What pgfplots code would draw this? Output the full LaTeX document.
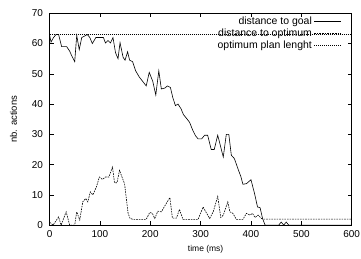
\documentclass[border=0pt]{standalone}
\usepackage{fontspec}
\setmainfont{Liberation Sans}
\usepackage{pgfplots}
\pgfplotsset{compat=1.18}
\begin{document}
\begin{tikzpicture}
\begin{axis}[
  scale only axis,
  width=302bp, height=211.7bp,
  xmin=0, xmax=600, ymin=0, ymax=70,
  xtick={0,100,...,600}, ytick={0,10,...,70},
  tick align=inside,
  major tick length=4bp,
  axis line style={line width=0.6bp},
  every tick/.style={line width=0.5bp, black},
  /pgf/number format/assume math mode=true,
  tick label style={font=\fontsize{10}{11}\selectfont},
  xticklabel style={yshift=-1.5bp},
  yticklabel style={xshift=-3bp},
  xlabel={time (ms)},
  ylabel={nb. actions},
  xlabel style={font=\fontsize{8.5}{9}\selectfont, yshift=-1bp, xshift=5bp},
  ylabel style={font=\fontsize{9.5}{10}\selectfont, yshift=8bp},
  legend plot pos=right,
  legend cell align=right,
  legend style={at={(1,1)}, anchor=north east, draw=none, fill=none,
    font=\fontsize{10.5}{11}\selectfont, xshift=-9bp, yshift=0bp,
    row sep=-1bp, inner sep=1bp},
  legend image code/.code={\draw[#1] (0bp,0bp) -- (27bp,0bp);},
]
\addplot[black, line width=0.6bp] coordinates {
(0,63) (3,60.5) (8,62) (13,63) (18,63) (24,59) (34,59) (40,57.5) (44,56) (50,54)
(54,62.7) (59,58) (64,62) (70,62.5) (75,63) (80,62) (85,60) (92,62) (100,62)
(107,62) (111,60.2) (116,61) (121,60.2) (126,62) (131,57) (136,55) (140,60.3)
(146,55.5) (150,54.5) (155,57.3) (159,54.5) (165,54) (171,51) (178,49) (185,47.5)
(192,46) (198,50.5) (205,47.5) (211,43) (217,51) (222,45) (229,45.3) (234,46)
(240,45.5) (245,42) (250,39.5) (255,40) (261,38.5) (266,36.5) (271,35.5) (278,34)
(284,31.5) (290,29.5) (295,28.5) (302,28.5) (308,29.7) (314,29.7) (321,25) (327,25)
(334,29.7) (345,22.5) (351,30) (356,30) (361,23.1) (367,22) (374,18.7) (380,16)
(384,13.5) (391,13.7) (400,15) (407,10.5) (413,6) (418,5.8) (423,2.2) (428,0)
(455,0) (460,1) (465,0) (470,1) (475,0) (600,0)
};
\addlegendentry{distance to goal}
\addplot[black, line width=0.6bp, dash pattern=on 1.6bp off 1bp] coordinates {
(0,1) (7,0) (18,2.7) (23,0) (33,4.4) (40,0) (50,0) (54,4.4) (60,1.7) (66,7.7)
(72,8.8) (76,7.7) (81,11) (86,10) (93,12.6) (99,15.9) (105,15.1) (111,15.9)
(118,15.9) (125,19.2) (129,14) (134,14) (139,18.1) (145,15.4) (149,13.7) (156,3.9)
(160,2.2) (166,1.9) (192,1.9) (199,4.2) (204,3.9) (209,2.2) (215,4.6) (222,4.4)
(232,7.2) (239,9.1) (244,2.3) (252,2.3) (258,5.2) (265,1.9) (295,1.9) (305,6)
(311,4.2) (318,2.2) (325,4.4) (334,9.5) (340,2.5) (345,3.3) (354,7.7) (358,4.4)
(364,3.9) (371,1.9) (384,1.9) (391,3.9) (398,3.3) (403,3.9) (408,2.5) (414,3.3)
(421,2.2) (425,2) (600,2)
};
\addlegendentry{distance to optimum}
\addplot[black, line width=0.6bp, dash pattern=on 0.8bp off 1.2bp] coordinates {
(0,63) (600,63)
};
\addlegendentry{optimum plan lenght}
\end{axis}
\pgfresetboundingbox
\path[use as bounding box] ([shift={(-49.5bp,-33bp)}]current axis.south west)
  rectangle ([shift={(9.3bp,13.3bp)}]current axis.north east);
\end{tikzpicture}
\end{document}
